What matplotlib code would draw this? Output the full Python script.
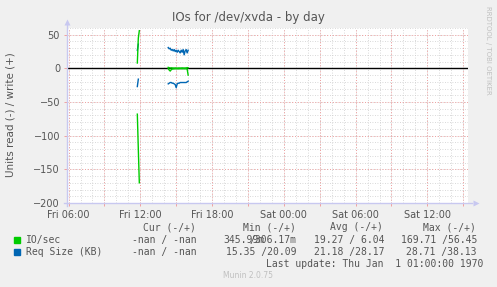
import numpy as np
import matplotlib
matplotlib.use("Agg")
import matplotlib.pyplot as plt

# spike around noon
spike_times = ["11:45", "11:50", "11:55"]
spike_write_io = [8, 45, 56]
spike_read_io = [68, 120, 170]
spike_write_kb = [27, 36, np.nan]
spike_read_kb = [27, 16, np.nan]

# second burst in the afternoon
seg_times = ["14:20", "14:25", "14:30", "14:35", "14:40", "14:45", "14:50",
             "14:55", "15:00", "15:05", "15:10", "15:15", "15:20", "15:25",
             "15:30", "15:35", "15:40", "15:45", "15:50", "15:55", "16:00"]
seg_write_io = [1.5, 1.0, 0.5, 0.8, 0.6, 0.5, 0.4, 0.6, 0.5, 0.3, 0.5,
                0.6, 0.4, 0.5, 0.7, 0.5, 0.4, 0.6, 0.5, 1.2, 0.8]
seg_read_io = [0.5, 2.5, 4.0, 2.0, 1.0, 0.8, 0.6, 0.5, 0.4, 0.5, 0.6,
               0.5, 0.4, 0.4, 0.5, 0.35, 0.5, 0.4, 0.5, 1.0, 10.0]
seg_write_kb = [31, 29, 30, 27, 28, 26, 28, 25, 27, 24, 27,
                25, 23, 27, 24, 28, 20.1, 26, 28, 23, 27]
seg_read_kb = [23, 22, 21, 21, 22, 22, 23, 24, 28.7, 23, 22,
               22, 21, 21, 21, 21, 21, 21, 21, 20, 19]

tick_hours = [6, 12, 18, 24, 30, 36]
tick_labels = ["Fri 06:00", "Fri 12:00", "Fri 18:00", "Sat 00:00", "Sat 06:00", "Sat 12:00"]

legend_names = ["IO/sec", "Req Size (KB)"]
legend_cur = ["-nan / -nan", "-nan / -nan"]
legend_min = ["345.99m/306.17m", "15.35 /20.09"]
legend_avg = ["19.27 / 6.04", "21.18 /28.17"]
legend_max = ["169.71 /56.45", "28.71 /38.13"]

GREEN = "#00CC00"
BLUE = "#0066B3"
BG = "#F0F0F0"
TXT = "#555555"


def to_hours(ts):
    out = []
    for t in ts:
        h, m = t.split(":")
        out.append(int(h) + int(m) / 60.0)
    return np.array(out)


W, H = 497, 287
fig = plt.figure(figsize=(W / 100, H / 100), dpi=100, facecolor=BG)
x0, x1, y0, y1 = 67, 468, 28, 203
ax = fig.add_axes([x0 / W, 1 - y1 / H, (x1 - x0) / W, (y1 - y0) / H])
ax.set_facecolor("white")
ax.set_xlim(5.87, 39.4)
ax.set_ylim(-200, 60)

# grid
for h in np.arange(6, 40, 1):
    ax.axvline(h, color="#CCCCCC", lw=0.6, ls=(0, (1, 2)), zorder=0)
for v in np.arange(-200, 61, 10):
    ax.axhline(v, color="#CCCCCC", lw=0.6, ls=(0, (1, 2)), zorder=0)
for h in np.arange(6, 40, 3):
    ax.axvline(h, color="#F0A0A0", lw=0.7, ls=(0, (1, 2)), zorder=1)
for v in np.arange(-200, 61, 50):
    ax.axhline(v, color="#F0A0A0", lw=0.7, ls=(0, (1, 2)), zorder=1)

ax.axhline(0, color="black", lw=1.0, zorder=2)

st = to_hours(spike_times)
sg = to_hours(seg_times)
lw = 1.0
ax.plot(st, spike_write_io, color=GREEN, lw=lw, zorder=4)
ax.plot(st, -np.array(spike_read_io), color=GREEN, lw=lw, zorder=4)
ax.plot(st, spike_write_kb, color=BLUE, lw=lw, zorder=3)
ax.plot(st, -np.array(spike_read_kb), color=BLUE, lw=lw, zorder=3)
ax.plot(sg, seg_write_io, color=GREEN, lw=lw, zorder=4)
ax.plot(sg, -np.array(seg_read_io), color=GREEN, lw=lw, zorder=4)
ax.plot(sg, seg_write_kb, color=BLUE, lw=lw, zorder=3)
ax.plot(sg, -np.array(seg_read_kb), color=BLUE, lw=lw, zorder=3)

for s in ax.spines.values():
    s.set_visible(False)

ax.set_xticks(tick_hours)
ax.set_xticklabels(tick_labels)
ax.set_xticks(np.arange(6, 40, 3), minor=True)
ax.set_yticks(np.arange(-200, 51, 50))
ax.tick_params(axis="both", colors="#F0A0A0", labelcolor=TXT, labelsize=7,
               length=2, width=0.7)
ax.tick_params(axis="x", which="minor", colors="#F0A0A0", length=2, width=0.7)
ax.tick_params(axis="x", pad=3)
ax.tick_params(axis="y", pad=3)

# axis lines with arrows
fig.add_artist(plt.Line2D([64 / W, 472 / W], [1 - y1 / H, 1 - y1 / H],
                          color="#C8C8F0", lw=1.0))
fig.add_artist(plt.Line2D([x0 / W, x0 / W], [1 - 206 / H, 1 - 24 / H],
                          color="#C8C8F0", lw=1.0))
fig.add_artist(plt.Line2D([476 / W], [1 - y1 / H], marker=">", ms=5,
                          color="#C8C8F0", mec="none"))
fig.add_artist(plt.Line2D([x0 / W], [1 - 22 / H], marker="^", ms=5,
                          color="#C8C8F0", mec="none"))

fig.text(0.5, 1 - 18 / H, "IOs for /dev/xvda - by day", ha="center", va="center",
         fontsize=8.5, color=TXT)
fig.text(11 / W, 1 - 115 / H, "Units read (-) / write (+)", rotation=90,
         ha="center", va="center", fontsize=7.5, color=TXT)
fig.text(488 / W, 1 - 6 / H, "RRDTOOL / TOBI OETIKER", rotation=270,
         ha="center", va="top", fontsize=5, color="#C0C0C0")

mono = dict(family="DejaVu Sans Mono", fontsize=7, color=TXT, va="center")
fig.text(196 / W, 1 - 227 / H, "Cur (-/+)", ha="right", **mono)
fig.text(296 / W, 1 - 227 / H, "Min (-/+)", ha="right", **mono)
fig.text(383 / W, 1 - 227 / H, "Avg (-/+)", ha="right", **mono)
fig.text(476 / W, 1 - 227 / H, "Max (-/+)", ha="right", **mono)

colors = [GREEN, BLUE]
for i in range(2):
    yy = 1 - (240 + i * 12) / H
    fig.patches.append(plt.Rectangle((14 / W, yy - 3 / H), 6 / W, 6 / H,
                                     transform=fig.transFigure, color=colors[i]))
    fig.text(26 / W, yy, legend_names[i], ha="left", **mono)
    fig.text(197 / W, yy, legend_cur[i], ha="right", **mono)
    if "m/" in legend_min[i]:
        a, b = legend_min[i].split("/")
        fig.text(264 / W, yy, a, ha="right", **mono)
        fig.text(297 / W, yy, "/" + b, ha="right", **mono)
    else:
        fig.text(297 / W, yy, legend_min[i], ha="right", **mono)
    fig.text(384 / W, yy, legend_avg[i], ha="right", **mono)
    fig.text(477 / W, yy, legend_max[i], ha="right", **mono)

fig.text(483 / W, 1 - 264 / H, "Last update: Thu Jan  1 01:00:00 1970",
         ha="right", **mono)
fig.text(248 / W, 1 - 276 / H, "Munin 2.0.75", ha="center", va="center",
         fontsize=5.5, color="#C0C0C0")

fig.savefig("out.png", dpi=100, facecolor=BG)
